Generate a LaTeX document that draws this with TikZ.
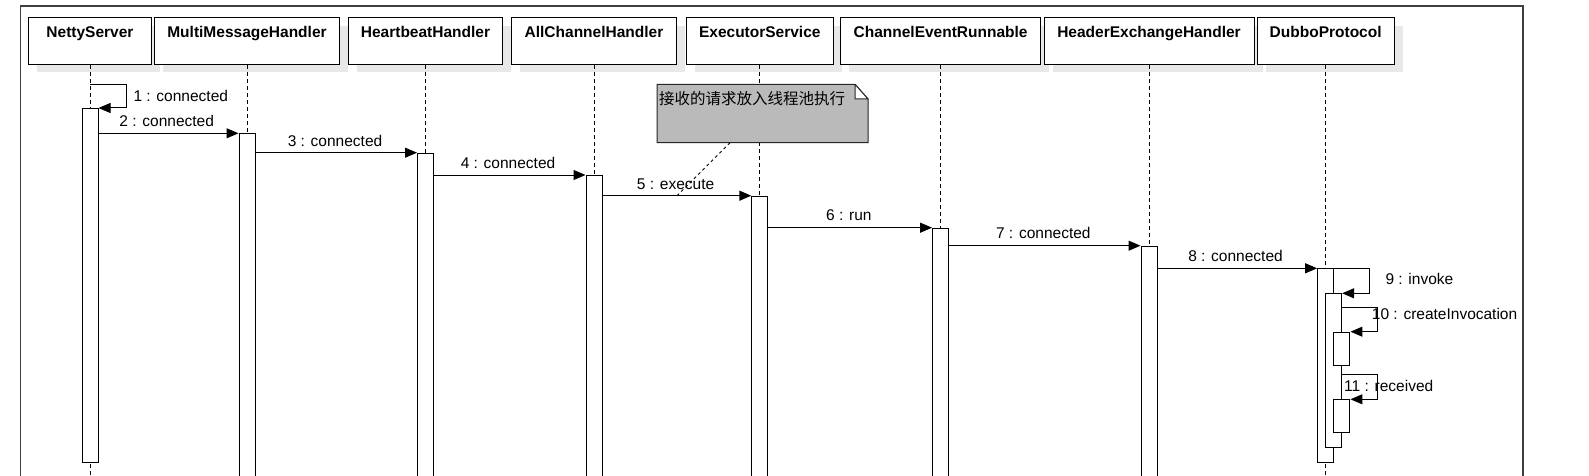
\documentclass[tikz,border=0pt]{standalone}
\usepackage{fontspec}
\setmainfont{Liberation Sans}
\newfontfamily\cjk{Noto Sans CJK SC}
\usetikzlibrary{arrows.meta}
\begin{document}
\begin{tikzpicture}[x=1pt,y=-1pt,
  font=\fontsize{15.5}{18}\selectfont,
  hdr/.style={draw=black, line width=1pt, fill=white, minimum height=47pt, inner sep=0pt, anchor=north west},
  shd/.style={fill=black!9},
  hlab/.style={font=\fontsize{15.5}{18}\selectfont\bfseries, anchor=base, inner sep=0pt},
  act/.style={draw=black, line width=1pt, fill=white, minimum width=16pt, inner sep=0pt, anchor=north},
  life/.style={black, line width=1pt, dash pattern=on 4pt off 3pt},
  msg/.style={line width=1pt, -{Triangle[length=12pt,width=10pt]}},
  lab/.style={anchor=base, inner sep=0pt},
  notebox/.style={draw=black!85, line width=1pt, fill=black!27},
]
\useasboundingbox (0,0) rectangle (1589,476);
\clip (0,0) rectangle (1589,476);
% frame
\draw[black!75, line width=1.5pt] (20.7,490) -- (20.7,6) -- (1523,6) -- (1523,490);
% shadows
\foreach \l/\w in {28/123, 154/185, 348/154, 511.4/164.2, 686/146.6, 840.2/199.8, 1043.5/210, 1256.7/136.9}{
  \fill[shd] (\l+9,26) rectangle (\l+\w+9,72);
}
% headers
\node[hdr, minimum width=123pt] (h1) at (28,17) {};
\node[hdr, minimum width=185pt] (h2) at (154,17) {};
\node[hdr, minimum width=154pt] (h3) at (348,17) {};
\node[hdr, minimum width=164.2pt] (h4) at (511.4,17) {};
\node[hdr, minimum width=146.6pt] (h5) at (686,17) {};
\node[hdr, minimum width=199.8pt] (h6) at (840.2,17) {};
\node[hdr, minimum width=210pt] (h7) at (1043.5,17) {};
\node[hdr, minimum width=136.9pt] (h8) at (1256.7,17) {};
\node[hlab] (t1) at (h1.north |- 0,37.5) {NettyServer};
\node[hlab] (t2) at (h2.north |- 0,37.5) {MultiMessageHandler};
\node[hlab] (t3) at (h3.north |- 0,37.5) {HeartbeatHandler};
\node[hlab] (t4) at (h4.north |- 0,37.5) {AllChannelHandler};
\node[hlab] (t5) at (h5.north |- 0,37.5) {ExecutorService};
\node[hlab] (t6) at (h6.north |- 0,37.5) {ChannelEventRunnable};
\node[hlab] (t7) at (h7.north |- 0,37.5) {HeaderExchangeHandler};
\node[hlab] (t8) at (h8.north |- 0,37.5) {DubboProtocol};
% lifelines
\foreach \h in {h1,h2,h3,h4,h5,h6,h7,h8}{
  \draw[life] (\h.south) -- (\h.south |- 0,480);
}
% note
\draw[notebox] (657,84.3) -- (855,84.3) -- (868,99) -- (868,142.7) -- (657,142.7) -- cycle;
\fill[white] (855,84.3) -- (868,99) -- (855,99) -- cycle;
\draw[black!85, line width=1pt] (855,84.3) -- (855,99) -- (868,99) -- (855,84.3);
\node[anchor=base west, inner sep=0pt, font=\cjk\fontsize{15.5}{18}\selectfont] (note) at (659,105) {接收的请求放入线程池执行};
\coordinate (nb) at (730,142.7);
\coordinate (m5) at (677,195.7);
\draw[black, line width=1pt, dash pattern=on 3pt off 3pt] (nb) -- (m5);
% activations
\node[act, minimum height=354pt] (a1) at (h1.south |- 0,108) {};
\node[act, minimum height=360pt] (a2) at (h2.south |- 0,133.3) {};
\node[act, minimum height=340pt] (a3) at (h3.south |- 0,152.7) {};
\node[act, minimum height=320pt] (a4) at (h4.south |- 0,175) {};
\node[act, minimum height=300pt] (a5) at (h5.south |- 0,195.7) {};
\node[act, minimum height=270pt] (a6) at (h6.south |- 0,227.7) {};
\node[act, minimum height=250pt] (a7) at (h7.south |- 0,245.7) {};
\node[act, minimum height=194pt] (a8) at (h8.south |- 0,268.3) {};
\node[act, minimum height=153.4pt] (a9) at ([xshift=8pt]h8.south |- 0,293.3) {};
\node[act, minimum height=33.3pt] (a10) at ([xshift=16.3pt]h8.south |- 0,331.7) {};
\node[act, minimum height=33pt] (a11) at ([xshift=16.3pt]h8.south |- 0,399.3) {};
% messages
\draw[msg] (a1.north |- 0,84.3) -- (126,84.3) |- (a1.north east);
\draw[msg] (a1.east |- a2.north) -- (a2.north west);
\draw[msg] (a2.east |- a3.north) -- (a3.north west);
\draw[msg] (a3.east |- a4.north) -- (a4.north west);
\draw[msg, line width=1.4pt] (a4.east |- a5.north) -- (a5.north west);
\draw[msg] (a5.east |- a6.north) -- (a6.north west);
\draw[msg] (a6.east |- a7.north) -- (a7.north west);
\draw[msg] (a7.east |- a8.north) -- (a8.north west);
\draw[msg] (a8.north east) -- (1369.3,268.3) |- (a9.north east);
\draw[msg] (a9.east |- 0,307.3) -- (1377.3,307.3) |- (a10.north east);
\draw[msg] (a9.east |- 0,374.7) -- (1377.3,374.7) |- (a11.north east);
% labels
\node[lab, anchor=base west] (l1) at (133.3,101.5) {1 : connected};
\node[lab] (l2) at (166.7,126.5) {2 : connected};
\node[lab] (l3) at (335,146.5) {3 : connected};
\node[lab] (l4) at (508,168.3) {4 : connected};
\node[lab] (l5) at (675.6,189.3) {5 : execute};
\node[lab] (l6) at (848.8,220.7) {6 : run};
\node[lab] (l7) at (1043.3,238.3) {7 : connected};
\node[lab] (l8) at (1235.5,261.7) {8 : connected};
\node[lab, anchor=base west] (l9) at (1385.3,284.3) {9 : invoke};
\node[lab, anchor=base west] (l10) at (1371.7,319.3) {10 : createInvocation};
\node[lab, anchor=base west] (l11) at (1344,391) {11 : received};
\end{tikzpicture}
\end{document}
